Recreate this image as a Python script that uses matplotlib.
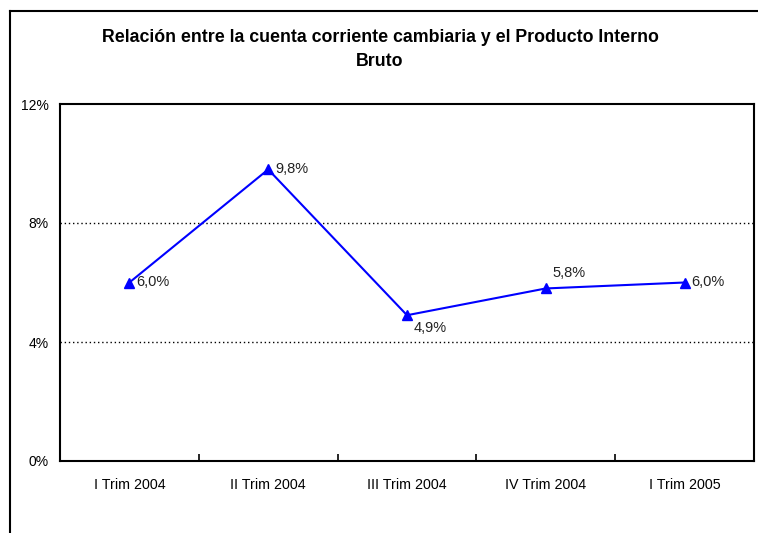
import matplotlib
matplotlib.use("Agg")
import matplotlib.pyplot as plt
from matplotlib.lines import Line2D

# datos
trimestres = ["I Trim 2004", "II Trim 2004", "III Trim 2004", "IV Trim 2004", "I Trim 2005"]
relacion = [6.0, 9.8, 4.9, 5.8, 6.0]
etiquetas = ["6,0%", "9,8%", "4,9%", "5,8%", "6,0%"]
yticks = [0, 4, 8, 12]
ytick_labels = ["0%", "4%", "8%", "12%"]

plt.rcParams["font.family"] = ["Liberation Sans", "DejaVu Sans"]

fig = plt.figure(figsize=(7.58, 5.33), dpi=100)
fig.patch.set_facecolor("white")

# marco exterior (cortado a la derecha y abajo)
fig.add_artist(Line2D([10/758, 10/758], [0, 1 - 11/533], color="black", lw=1.5))
fig.add_artist(Line2D([10/758, 1], [1 - 11/533, 1 - 11/533], color="black", lw=1.5))

ax = fig.add_axes([60/758, 72/533, 694/758, 357/533])
x = list(range(len(trimestres)))
ax.plot(x, relacion, color="#0000ff", lw=1.5, marker="^", markersize=7)

# etiquetas de datos (desplazamiento en puntos, alineadas al centro vertical)
offsets = [(5, 0), (5, 0), (5, -9), (5, 11), (5, 0)]
for xi, yi, lab, off in zip(x, relacion, etiquetas, offsets):
    ax.annotate(lab, (xi, yi), xytext=off, textcoords="offset points",
                ha="left", va="center", fontsize=10.5, color="#222222")

ax.set_xlim(-0.5, len(trimestres) - 0.5)
ax.set_ylim(0, 12)
ax.set_yticks(yticks)
ax.set_yticklabels(ytick_labels, fontsize=10)
ax.tick_params(axis="y", length=0, pad=8)

# ticks del eje x entre categorias
ax.set_xticks([i + 0.5 for i in x[:-1]])
ax.set_xticklabels([])
ax.set_xticks(x, minor=True)
ax.set_xticklabels(trimestres, minor=True, fontsize=10.3)
ax.tick_params(axis="x", which="major", direction="in", length=5, width=1.2)
ax.tick_params(axis="x", which="minor", length=0, pad=12)

for y in [4, 8]:
    ax.axhline(y, color="black", lw=1, ls=(0, (1, 2)), zorder=0)

for s in ax.spines.values():
    s.set_linewidth(1.5)
    s.set_color("black")

fig.text(380/758, 1 - 37/533, "Relación entre la cuenta corriente cambiaria y el Producto Interno",
         ha="center", va="center", fontsize=12.8, fontweight="bold")
fig.text(380/758, 1 - 62/533, "Bruto", ha="center", va="center", fontsize=12.8, fontweight="bold")

fig.savefig("out.png", dpi=100)
